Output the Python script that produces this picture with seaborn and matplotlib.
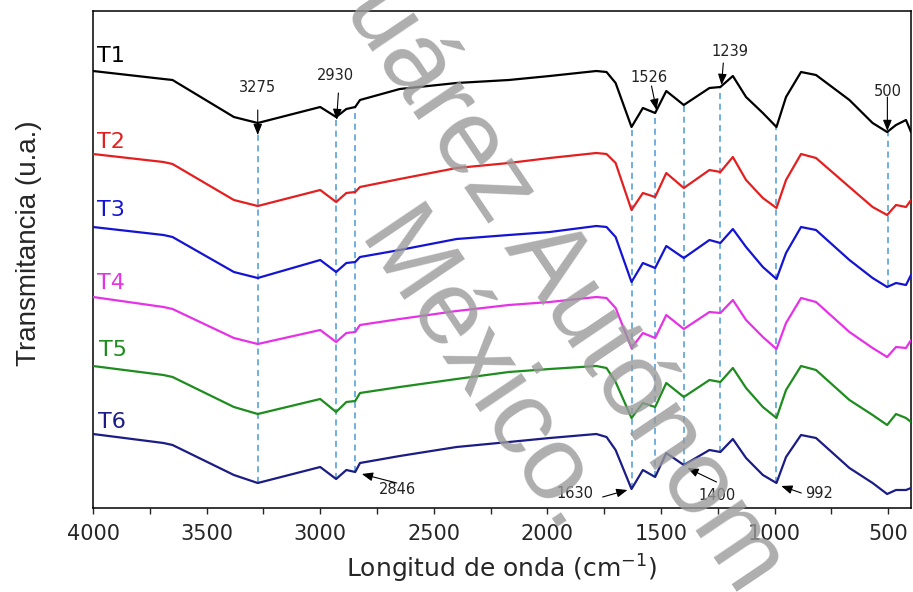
import numpy as np
import pandas as pd
import matplotlib
matplotlib.use("Agg")
import matplotlib.pyplot as plt
import seaborn as sns

# ---- data (arbitrary transmittance units) ----
wavenumber = [4000, 3690, 3650, 3380, 3275, 3000, 2930, 2885, 2846, 2825, 2650, 2400, 2170,
              1990, 1785, 1740, 1700, 1630, 1580, 1526, 1477, 1400, 1287, 1239, 1184,
              1126, 1052, 992, 950, 884, 818, 671, 569, 505, 466, 422, 400]

T1 = [44.9, 44.1, 44.0, 40.3, 39.7, 41.3, 40.3, 41.1, 41.3, 42.0, 43.1, 43.7, 44.0,
      44.4, 44.9, 44.8, 43.7, 39.3, 41.2, 40.7, 42.9, 41.5, 43.2, 43.3, 44.4,
      42.3, 40.7, 39.3, 42.3, 44.8, 44.5, 42.0, 39.7, 38.8, 39.5, 40.0, 38.8]
T2 = [36.6, 35.8, 35.6, 32.0, 31.4, 33.0, 31.8, 32.7, 32.8, 33.3, 34.1, 35.2, 35.7,
      36.2, 36.7, 36.6, 35.7, 31.0, 32.7, 32.3, 34.7, 33.2, 35.0, 34.8, 36.3,
      34.0, 32.2, 31.2, 34.0, 36.6, 36.2, 33.3, 31.3, 30.5, 31.5, 31.3, 32.0]
T3 = [29.3, 28.5, 28.3, 24.8, 24.2, 26.0, 24.8, 25.7, 25.8, 26.3, 27.0, 28.1, 28.5,
      28.8, 29.4, 29.3, 28.3, 23.8, 25.7, 25.2, 27.4, 26.2, 28.0, 27.7, 29.1,
      27.3, 25.3, 24.1, 26.7, 29.3, 29.0, 26.0, 24.2, 23.3, 23.7, 23.5, 24.5]
T4 = [22.3, 21.3, 21.1, 18.2, 17.6, 19.0, 17.8, 18.7, 18.8, 19.5, 20.1, 20.9, 21.5,
      21.8, 22.3, 22.2, 21.2, 17.2, 18.7, 18.2, 20.5, 19.1, 20.8, 20.7, 22.0,
      20.0, 18.3, 17.1, 19.7, 22.2, 21.8, 18.8, 17.2, 16.3, 17.3, 17.2, 18.0]
T5 = [15.4, 14.5, 14.3, 11.3, 10.6, 12.1, 10.8, 11.8, 11.9, 12.7, 13.3, 14.1, 14.8,
      15.1, 15.4, 15.2, 13.8, 10.2, 11.7, 11.3, 13.7, 12.3, 14.0, 13.8, 15.2,
      13.2, 11.3, 10.2, 13.0, 15.4, 15.0, 12.0, 10.5, 9.5, 10.6, 10.2, 9.8]
T6 = [8.6, 7.7, 7.5, 4.5, 3.7, 5.3, 4.1, 5.0, 4.8, 5.7, 6.4, 7.3, 7.8,
      8.2, 8.6, 8.3, 7.0, 3.1, 5.0, 4.3, 6.7, 5.5, 7.0, 6.8, 8.1,
      6.2, 4.5, 3.7, 6.3, 8.5, 8.2, 5.2, 3.7, 2.6, 3.0, 3.0, 3.2]

samples = ["T1", "T2", "T3", "T4", "T5", "T6"]
series = [T1, T2, T3, T4, T5, T6]
colors = ["#000000", "#e41f1f", "#1414d2", "#e632e6", "#1e8c1e", "#1c1c85"]

# label positions for sample names (wavenumber, value)
label_w = [3982, 3982, 3982, 3982, 3975, 3978]
label_v = [46.4, 37.8, 31.0, 23.7, 17.0, 9.8]

# marked bands, dashed guide lines from T1 down to the given lowest trace
bands = [3275, 2930, 2846, 1630, 1526, 1400, 1239, 992, 500]
band_bottom = ["T6", "T6", "T6", "T6", "T6", "T6", "T6", "T6", "T3"]

# top annotations: text, text pos (w, v), arrow start (w, v), arrow tip (w, v)
top_text = ["3275", "2930", "1526", "1239", "500"]
top_text_pos = [(3275, 43.2), (2933, 44.4), (1555, 44.2), (1195, 46.8), (504, 42.8)]
top_arrow_from = [(3275, 41.0), (2920, 42.7), (1542, 43.4), (1226, 45.7), (504, 42.3)]
top_arrow_to = [(3275, 38.5), (2928, 40.0), (1520, 41.0), (1234, 43.5), (504, 38.9)]

# bottom annotations
bot_text = ["2846", "1630", "1400", "992"]
bot_text_pos = [(2659, 3.0), (1881, 2.7), (1252, 2.5), (803, 2.7)]
bot_arrow_from = [(2663, 3.7), (1757, 2.3), (1256, 3.8), (883, 2.7)]
bot_arrow_to = [(2817, 4.6), (1648, 3.0), (1384, 5.2), (971, 3.4)]

# ---- figure ----
sns.set_style("ticks")
plt.rcParams["font.family"] = ["DejaVu Sans"]

fig = plt.figure(figsize=(9.13, 5.92), dpi=100)
ax = fig.add_axes([93 / 913, 1 - 508 / 592, (911 - 93) / 913, (508 - 11) / 592])

df = pd.concat([pd.DataFrame({"w": wavenumber, "T": s, "muestra": n})
                for n, s in zip(samples, series)], ignore_index=True)
sns.lineplot(data=df, x="w", y="T", hue="muestra", palette=colors,
             estimator=None, legend=False, lw=1.6, ax=ax, zorder=3)

ax.set_xlim(4000, 400)
ax.set_ylim(1.2, 50.9)

# dashed guides
series_map = dict(zip(samples, series))
w_sorted = np.array(wavenumber[::-1])
for b, bot in zip(bands, band_bottom):
    top_v = np.interp(b, w_sorted, np.array(T1[::-1]))
    bot_v = np.interp(b, w_sorted, np.array(series_map[bot][::-1]))
    ax.vlines(b, bot_v, top_v, colors="#4a9ad6", linestyles=(0, (4, 3)),
              lw=1.1, zorder=2)

# sample labels
for n, c, lw_, lv in zip(samples, colors, label_w, label_v):
    ax.text(lw_, lv, n, color=c, fontsize=16, ha="left", va="center")

arrow_kw = dict(arrowstyle="-|>,head_length=0.55,head_width=0.22",
                color="black", lw=0.8, shrinkA=0, shrinkB=0, mutation_scale=12)
for t, tp, af, at in zip(top_text, top_text_pos, top_arrow_from, top_arrow_to):
    ax.text(tp[0], tp[1], t, fontsize=10.5, ha="center", va="center", color="#222222")
    ax.annotate("", xy=at, xytext=af, arrowprops=arrow_kw)

for t, tp, af, at in zip(bot_text, bot_text_pos, bot_arrow_from, bot_arrow_to):
    ax.text(tp[0], tp[1], t, fontsize=10.5, ha="center", va="center", color="#222222")
    ax.annotate("", xy=at, xytext=af, arrowprops=arrow_kw)

# axes styling
ax.set_yticks([])
ax.set_xticks(np.arange(4000, 399, -500))
ax.set_xticks(np.arange(3750, 399, -500), minor=True)
ax.tick_params(axis="x", which="major", direction="out", length=4.5, width=1.0,
               labelsize=15, pad=7)
ax.tick_params(axis="x", which="minor", direction="out", length=4.0, width=1.0)
for sp in ax.spines.values():
    sp.set_visible(True)
    sp.set_linewidth(1.1)
    sp.set_color("black")

ax.set_xlabel("Longitud de onda (cm$^{-1}$)", fontsize=18, labelpad=6)
ax.set_ylabel("Transmitancia (u.a.)", fontsize=20,
              family=["Liberation Sans", "DejaVu Sans"])
ax.yaxis.set_label_coords(-0.062, 0.533)

# watermark
wm_kw = dict(fontsize=76, color="#9a9a9a", alpha=0.8, rotation=-56,
             rotation_mode="anchor", ha="left", va="baseline",
             family=["Liberation Sans", "DejaVu Sans"], zorder=10)
fig.text(343 / 913, 1 - 8 / 592, "uárez Autónom", **wm_kw)
fig.text(355 / 913, 1 - 240 / 592, "México.", **wm_kw)

fig.savefig("out.png", dpi=100)
